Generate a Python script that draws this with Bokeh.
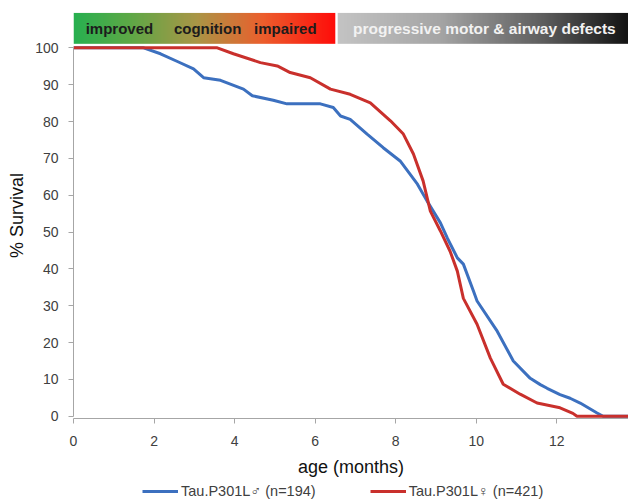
import numpy as np
from bokeh.plotting import figure
from bokeh.layouts import column
from bokeh.models import Legend, LegendItem, Label, Range1d, FixedTicker
from bokeh.embed import file_html
from bokeh.resources import INLINE

# ---- data ----
male_age = [0, 1.74, 2.16, 2.58, 2.98, 3.23, 3.65, 4.22, 4.44, 4.96, 5.3, 6.13, 6.45, 6.63,
            6.87, 7.29, 7.69, 8.11, 8.54, 8.78, 9.11, 9.28, 9.53, 9.68, 9.93, 10.02, 10.52,
            10.92, 11.34, 11.59, 11.76, 12.08, 12.33, 12.58, 13.0, 13.15, 13.78]
male_surv = [100, 100, 98.4, 96.3, 94.3, 91.9, 91.2, 88.8, 87.0, 85.8, 84.8, 84.8, 83.8, 81.5,
             80.6, 76.6, 72.9, 69.3, 63.0, 58.4, 52.5, 48.4, 43.0, 41.3, 34.0, 31.3, 23.1,
             15.0, 10.3, 8.6, 7.6, 5.9, 4.9, 3.6, 0.9, 0, 0]

female_age = [0, 3.57, 3.97, 4.64, 5.06, 5.38, 5.88, 6.38, 6.87, 7.37, 7.87, 8.19, 8.44, 8.68,
              8.86, 9.11, 9.35, 9.53, 9.68, 10.02, 10.35, 10.67, 11.09, 11.51, 12.08, 12.4,
              12.5, 13.78]
female_surv = [100, 100, 98.4, 96.0, 95.1, 93.3, 91.9, 88.8, 87.4, 85.1, 80.2, 76.6, 71.2, 63.9,
               55.7, 50.3, 44.8, 39.4, 32.0, 25.0, 15.8, 8.7, 6.0, 3.6, 2.3, 0.8,
               0, 0]

x_ticks = [0, 2, 4, 6, 8, 10, 12]
y_ticks = [0, 10, 20, 30, 40, 50, 60, 70, 80, 90, 100]
banner_words = ["improved", "cognition", "impaired"]
banner_right = "progressive motor & airway defects"
legend_labels = ["Tau.P301L\u2642 (n=194)", "Tau.P301L\u2640 (n=421)"]

FONT = "Liberation Sans"
BLUE = "#3c70bf"
RED = "#c9302c"

p = figure(frame_width=555, frame_height=406,
           x_range=Range1d(0, 13.78), y_range=Range1d(-0.6, 109.6),
           output_backend="svg", toolbar_location=None,
           min_border_left=73, min_border_top=12, min_border_right=0, min_border_bottom=0)
p.outline_line_color = None
p.xgrid.visible = False
p.ygrid.visible = False
p.background_fill_color = "white"

# ---- banner gradients ----
def gradient(stops, n=256):
    pos = np.array([s[0] for s in stops])
    cols = np.array([s[1] for s in stops], dtype=float)
    t = np.linspace(0, 1, n)
    r = np.interp(t, pos, cols[:, 0]).astype(np.uint32)
    g = np.interp(t, pos, cols[:, 1]).astype(np.uint32)
    b = np.interp(t, pos, cols[:, 2]).astype(np.uint32)
    img = (255 << 24) | (b << 16) | (g << 8) | r
    return img.reshape(1, n).astype(np.uint32)

green_red = gradient([(0.0, (40, 176, 80)), (0.22, (95, 168, 70)), (0.47, (170, 150, 70)),
                      (0.72, (236, 95, 45)), (1.0, (255, 12, 10))])
grey_black = gradient([(0.0, (196, 196, 196)), (0.35, (165, 165, 165)),
                       (0.7, (95, 95, 95)), (1.0, (18, 18, 18))])

p.image_rgba(image=[green_red], x=0, y=101.1, dw=6.5, dh=8.4)
p.image_rgba(image=[grey_black], x=6.56, y=101.1, dw=7.22, dh=8.4)

for word, xc in zip(banner_words, [1.14, 3.33, 5.26]):
    p.add_layout(Label(x=xc, y=105.3, text=word, text_align="center", text_baseline="middle",
                       text_font=FONT, text_font_size="15px", text_font_style="bold",
                       text_color="#1c1c1c"))
p.add_layout(Label(x=10.2, y=105.3, text=banner_right, text_align="center",
                   text_baseline="middle", text_font=FONT, text_font_size="15.5px",
                   text_font_style="bold", text_color="#f2f2f2"))

# ---- curves ----
r_m = p.line(male_age, male_surv, line_color=BLUE, line_width=3)
r_f = p.line(female_age, female_surv, line_color=RED, line_width=3)

# ---- axes ----
for ax in (p.xaxis[0], p.yaxis[0]):
    ax.axis_line_color = "#a6a6a6"
    ax.major_tick_line_color = "#a6a6a6"
    ax.major_tick_out = 5
    ax.major_tick_in = 0
    ax.minor_tick_line_color = None
    ax.major_label_text_font = FONT
    ax.major_label_text_font_size = "14px"
    ax.major_label_text_color = "#404040"
    ax.axis_label_text_font = FONT
    ax.axis_label_text_font_size = "18px"
    ax.axis_label_text_font_style = "normal"
    ax.axis_label_text_color = "#111111"

p.xaxis.ticker = FixedTicker(ticks=x_ticks)
p.yaxis.ticker = FixedTicker(ticks=y_ticks)
p.xaxis.bounds = (0, 13.78)
p.yaxis.bounds = (0, 100)
p.xaxis.axis_label = "age (months)"
p.yaxis.axis_label = "% Survival"
p.yaxis.major_label_standoff = 10
p.yaxis.axis_label_standoff = 5
p.xaxis.major_label_standoff = 12
p.xaxis.axis_label_standoff = 8

# ---- legend strip (separate small figure under the chart) ----
# the same series are drawn here out of view, only to feed the legend swatches
lg = figure(width=628, height=22, output_backend="svg", toolbar_location=None,
            x_axis_type=None, y_axis_type=None, min_border=0,
            x_range=Range1d(0, 13.78), y_range=Range1d(1000, 1001))
lg.outline_line_color = None
lg.xgrid.visible = False
lg.ygrid.visible = False
l_m = lg.line(male_age, male_surv, line_color=BLUE, line_width=3)
l_f = lg.line(female_age, female_surv, line_color=RED, line_width=3)
legend = Legend(items=[LegendItem(label=legend_labels[0], renderers=[l_m]),
                       LegendItem(label=legend_labels[1], renderers=[l_f])],
                orientation="horizontal", location=(69, 0),
                glyph_width=36, glyph_height=20, label_height=20, label_standoff=3, spacing=54,
                padding=0, margin=0, border_line_color=None, background_fill_alpha=0,
                label_text_font=FONT, label_text_font_size="14.5px", label_text_color="#404040")
lg.add_layout(legend)

layout = column(p, lg, spacing=0)
open("out.html", "w").write(file_html(layout, INLINE))
